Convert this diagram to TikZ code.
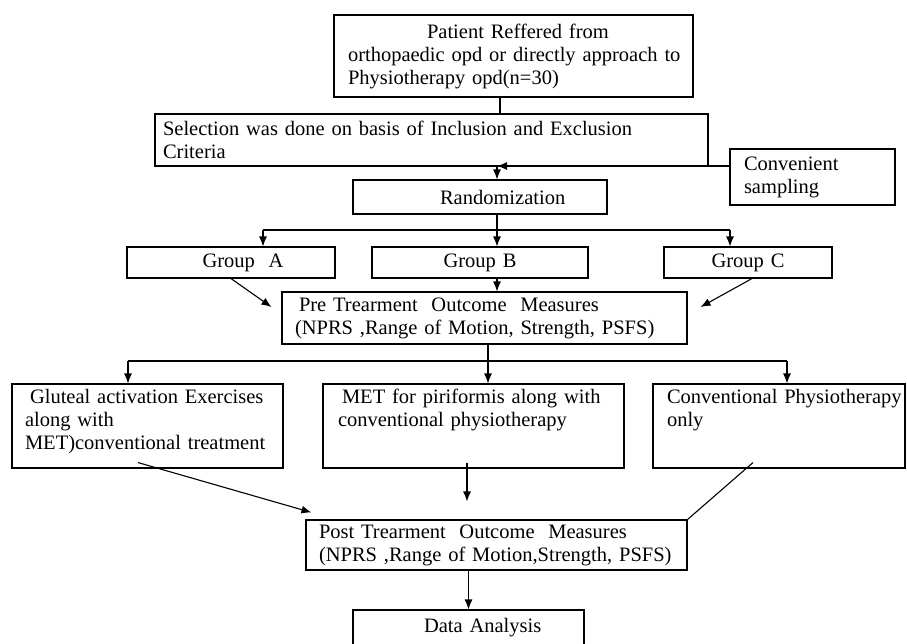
\documentclass[tikz,border=0pt]{standalone}
\usepackage{fontspec}
\setmainfont{Liberation Serif}
\usetikzlibrary{arrows.meta,calc}
\hyphenpenalty=10000

\tikzset{
    box/.style={draw, line width=1.1pt, inner xsep=8pt, inner ysep=0pt, align=left,
        font=\fontsize{20.5}{23}\selectfont},
    treat/.style={box, text height=19pt, text depth=65pt},
    flow/.style={-{Latex[length=10pt,width=8pt]}, line width=1.1pt},
    link/.style={line width=1.1pt}
}

\begin{document}
\begin{tikzpicture}[x=1pt, y=1pt]
    \useasboundingbox (0,0) rectangle (907,-643);
    \clip (0,0) rectangle (907,-643);

    % Recruitment
    \node[box, text width=331pt, inner xsep=14pt, minimum height=82pt] (patient) at (513.5,-56) {\hspace*{79pt}Patient Reffered from\\\mbox{orthopaedic opd or directly approach to}\\Physiotherapy opd(n=30)};
    \node[box, text width=537pt, minimum height=52pt] (selection) at (431.5,-140) {Selection was done on basis of Inclusion and Exclusion\\Criteria};
    \node[box, text width=137pt, inner xsep=14pt, minimum height=56pt] (sampling) at (812.5,-177) {Convenient\\sampling};
    \node[box, text width=238pt, minimum height=34pt] (random) at (480,-197) {\hspace*{79pt}Randomization};

    % Groups
    \node[box, align=center, text width=192pt, minimum height=31pt] (groupA) at (231,-262.5) {\hspace*{24pt}Group\ \ A};
    \node[box, align=center, text width=200pt, minimum height=31pt] (groupB) at (480,-262.5) {Group B};
    \node[box, align=center, text width=152pt, minimum height=31pt] (groupC) at (748,-262.5) {Group C};

    % Pre measures
    \node[box, text width=379pt, inner xsep=13pt, minimum height=52pt] (pre) at (484.5,-318) {\hspace*{4pt}Pre Trearment\ \ Outcome\ \ Measures\\(NPRS ,Range of Motion, Strength, PSFS)};

    % Treatments
    \node[treat, text width=245pt, inner xsep=13pt] (gluteal) at (147.5,-426) {\hspace*{5pt}Gluteal activation Exercises\\along with\\\mbox{MET)conventional treatment}};
    \node[treat, text width=271pt, inner xsep=15pt] (metpiri) at (473.5,-426) {\hspace*{4pt}MET for piriformis along with\\conventional physiotherapy};
    \node[treat, text width=224pt, inner xsep=14pt] (convonly) at (779,-426) {\mbox{Conventional Physiotherapy}\\only};

    % Post measures and analysis
    \node[box, text width=355pt, inner xsep=13pt, minimum height=50pt] (post) at (496.5,-545) {Post Trearment\ \ Outcome\ \ Measures\\(NPRS ,Range of Motion,Strength, PSFS)};
    \node[box, text width=215pt, minimum height=36pt] (data) at (468.5,-628) {\hspace*{63pt}Data Analysis};

    % Connectors
    \coordinate (cutA) at (500,-105);
    \coordinate (merge) at (497,-166);
    \coordinate (splitL) at (263,-230);
    \coordinate (splitR) at (730,-230);
    \coordinate (fork) at (488,-361);
    \coordinate (forkL) at (128,-361);
    \coordinate (forkR) at (787,-361);

    \draw[link] (patient.south -| cutA) -- (selection.north -| cutA);
    \draw[flow] (sampling.west |- merge) -- (merge);
    \draw[flow] (merge) -- (random.north -| merge);

    \draw[flow] (random.south -| merge) -- (groupB.north -| merge);
    \draw[link] (splitL) -- (splitR);
    \draw[flow] (splitL) -- (groupA.north -| splitL);
    \draw[flow] (splitR) -- (groupC.north -| splitR);

    \draw[flow] (groupB.south -| merge) -- (pre.north -| merge);
    \draw[flow] (groupA.south) -- ($(pre.west)+(-10,11)$);
    \draw[flow] ($(groupC.south)+(4,0)$) -- ($(pre.east)+(13,11)$);

    \draw[link] (pre.south -| fork) -- (fork);
    \draw[link] (forkL) -- (forkR);
    \draw[flow] (fork) -- (metpiri.north -| fork);
    \draw[flow] (forkL) -- (gluteal.north -| forkL);
    \draw[flow] (forkR) -- (convonly.north -| forkR);

    \draw[flow] ($(gluteal.south)+(-9.5,6)$) -- ($(post.north west)+(6,7)$);
    \draw[flow] ($(metpiri.south)+(-6.5,6)$) -- ($(post.north)+(-29.5,18)$);
    \draw[link] ($(convonly.south)+(-26,6)$) -- (post.north east);
    \draw[flow] (post.south -| data.north) -- (data.north);
\end{tikzpicture}
\end{document}
